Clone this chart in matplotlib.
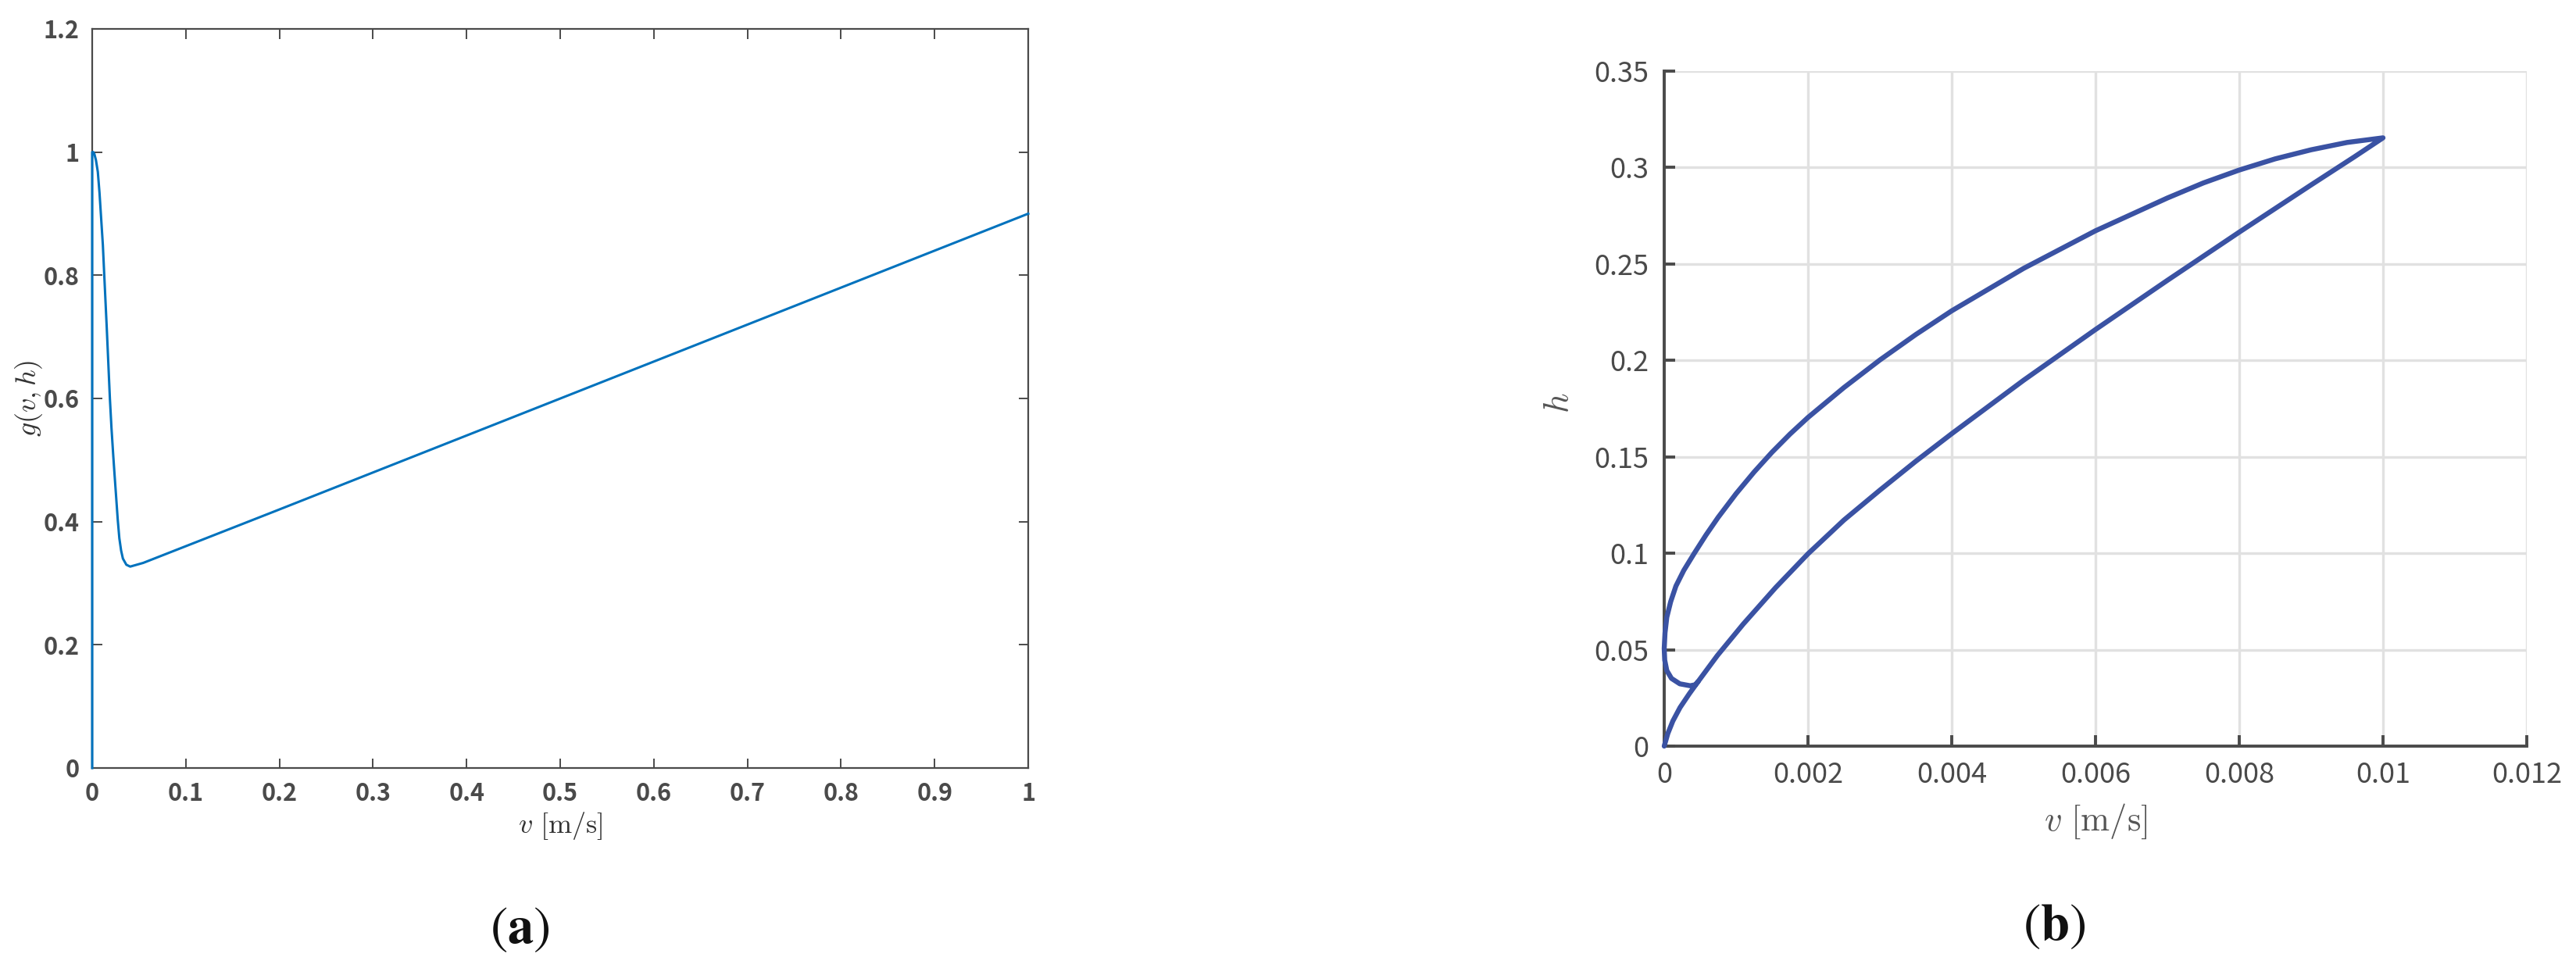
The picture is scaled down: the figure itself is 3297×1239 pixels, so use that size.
import numpy as np
import matplotlib
matplotlib.use('Agg')
import matplotlib.pyplot as plt

plt.rcParams['mathtext.fontset'] = 'cm'

# (a) g(v,h) against v
v_a = [0, 0, 0.0011, 0.0023, 0.004, 0.006, 0.0078, 0.0095, 0.0114, 0.0128,
       0.0142, 0.0156, 0.017, 0.0189, 0.0206, 0.0225, 0.0239, 0.0253, 0.0273,
       0.029, 0.0309, 0.0328, 0.0365, 0.0406, 0.0545, 0.1937, 1.0]
g_a = [0, 1.0, 1.0, 0.997, 0.987, 0.968, 0.934, 0.894, 0.849, 0.803,
       0.758, 0.713, 0.665, 0.600, 0.552, 0.507, 0.476, 0.446, 0.403,
       0.373, 0.353, 0.340, 0.330, 0.327, 0.333, 0.416, 0.9]

# (b) h against v: loading branch, unloading branch, start loop
lower_v = [0, 0.00005, 0.00012, 0.00022, 0.00035, 0.00047, 0.00074, 0.0011,
           0.00155, 0.002, 0.0025, 0.003, 0.0035, 0.004, 0.005, 0.006, 0.007,
           0.008, 0.009, 0.0096, 0.0100]
lower_h = [0, 0.0065, 0.0130, 0.0200, 0.0272, 0.0334, 0.0470, 0.0633,
           0.0822, 0.0997, 0.1172, 0.1327, 0.1477, 0.1620, 0.1897, 0.2160, 0.2415,
           0.2665, 0.2910, 0.3055, 0.3154]
upper_v = [0.0100, 0.0095, 0.009, 0.0085, 0.008, 0.0075, 0.007, 0.006, 0.005,
           0.004, 0.0035, 0.003, 0.0025, 0.002, 0.00175, 0.0015, 0.00125, 0.001,
           0.00075, 0.00058, 0.000417, 0.000272, 0.000163, 0.00009, 0.000036,
           0.000011, 0]
upper_h = [0.3154, 0.3130, 0.3092, 0.3045, 0.2987, 0.2920, 0.2842, 0.2672, 0.2477,
           0.2257, 0.2134, 0.2002, 0.1859, 0.1704, 0.1618, 0.1524, 0.1421, 0.1309,
           0.1186, 0.1094, 0.0999, 0.0911, 0.0830, 0.0749, 0.0668,
           0.0587, 0.0506]
loop_v = [0.000007, 0.000036, 0.000101, 0.000217, 0.000362, 0.00043, 0.00047]
loop_h = [0.0446, 0.0392, 0.0351, 0.0323, 0.0313, 0.0318, 0.0334]

a_xticks = [0, 0.1, 0.2, 0.3, 0.4, 0.5, 0.6, 0.7, 0.8, 0.9, 1]
a_xlabels = ['0', '0.1', '0.2', '0.3', '0.4', '0.5', '0.6', '0.7', '0.8', '0.9', '1']
a_yticks = [0, 0.2, 0.4, 0.6, 0.8, 1.0, 1.2]
a_ylabels = ['0', '0.2', '0.4', '0.6', '0.8', '1', '1.2']
b_xticks = [0, 0.002, 0.004, 0.006, 0.008, 0.01, 0.012]
b_xlabels = ['0', '0.002', '0.004', '0.006', '0.008', '0.01', '0.012']
b_yticks = [0, 0.05, 0.1, 0.15, 0.2, 0.25, 0.3, 0.35]
b_ylabels = ['0', '0.05', '0.1', '0.15', '0.2', '0.25', '0.3', '0.35']

tick_col = '#4a4a4a'
fig = plt.figure(figsize=(32.98, 12.39), dpi=100)

# ---- panel (a)
ax1 = fig.add_axes([0.03578, 0.20662, 0.36325, 0.76352])
ax1.plot(v_a, g_a, color='#0072BD', lw=2.2, clip_on=False, zorder=3)
ax1.set_xlim(0, 1)
ax1.set_ylim(0, 1.2)
ax1.set_xticks(a_xticks)
ax1.set_xticklabels(a_xlabels)
ax1.set_yticks(a_yticks)
ax1.set_yticklabels(a_ylabels)
for s in ax1.spines.values():
    s.set_color(tick_col)
    s.set_linewidth(1.6)
ax1.tick_params(direction='in', length=9, width=1.4, color=tick_col,
                top=True, right=True, labelcolor=tick_col, labelsize=22, pad=12)
for lab in ax1.get_xticklabels() + ax1.get_yticklabels():
    lab.set_family('Noto Sans CJK JP')
    lab.set_weight('bold')
ax1.set_xlabel(r'$v\ [\mathrm{m/s}]$', fontsize=26, color='#333333')
ax1.xaxis.label.set_va('center')
ax1.xaxis.set_label_coords(0.5, -0.078)
ax1.set_ylabel(r'$g(v,h)$', fontsize=26, color='#333333')
ax1.yaxis.label.set_va('center')
ax1.yaxis.set_label_coords(-0.068, 0.5)

# ---- panel (b)
ax2 = fig.add_axes([0.64585, 0.22922, 0.33475, 0.69734])
bv = lower_v + upper_v + loop_v
bh = lower_h + upper_h + loop_h
ax2.plot(bv, bh, color='#3A52A3', lw=4.6, clip_on=False, zorder=3,
         solid_joinstyle='round', solid_capstyle='round')
ax2.set_xlim(0, 0.012)
ax2.set_ylim(0, 0.35)
ax2.set_xticks(b_xticks)
ax2.set_xticklabels(b_xlabels)
ax2.set_yticks(b_yticks)
ax2.set_yticklabels(b_ylabels)
ax2.grid(True, color='#e1e1e1', lw=2.4)
ax2.set_axisbelow(True)
ax2.spines['top'].set_visible(False)
ax2.spines['right'].set_visible(False)
for k in ['left', 'bottom']:
    ax2.spines[k].set_color(tick_col)
    ax2.spines[k].set_linewidth(2.8)
ax2.tick_params(direction='in', length=10, width=2.8, color=tick_col,
                labelcolor=tick_col, labelsize=26, pad=14)
for lab in ax2.get_xticklabels() + ax2.get_yticklabels():
    lab.set_family('Noto Sans CJK JP')
ax2.set_xlabel(r'$v\ [\mathrm{m/s}]$', fontsize=32, color='#555555')
ax2.xaxis.label.set_va('center')
ax2.xaxis.set_label_coords(0.5, -0.112)
ax2.set_ylabel(r'$h$', fontsize=32, color='#555555')
ax2.yaxis.label.set_va('center')
ax2.yaxis.set_label_coords(-0.123, 0.508)

# sub-figure captions
fig.text(0.2016, 0.0412, r'$(\mathbf{a})$', fontsize=48, ha='center', va='center',
         math_fontfamily='stix', color='#111111')
fig.text(0.7971, 0.0444, r'$(\mathbf{b})$', fontsize=48, ha='center', va='center',
         math_fontfamily='stix', color='#111111')

fig.savefig('out.png', dpi=100)
